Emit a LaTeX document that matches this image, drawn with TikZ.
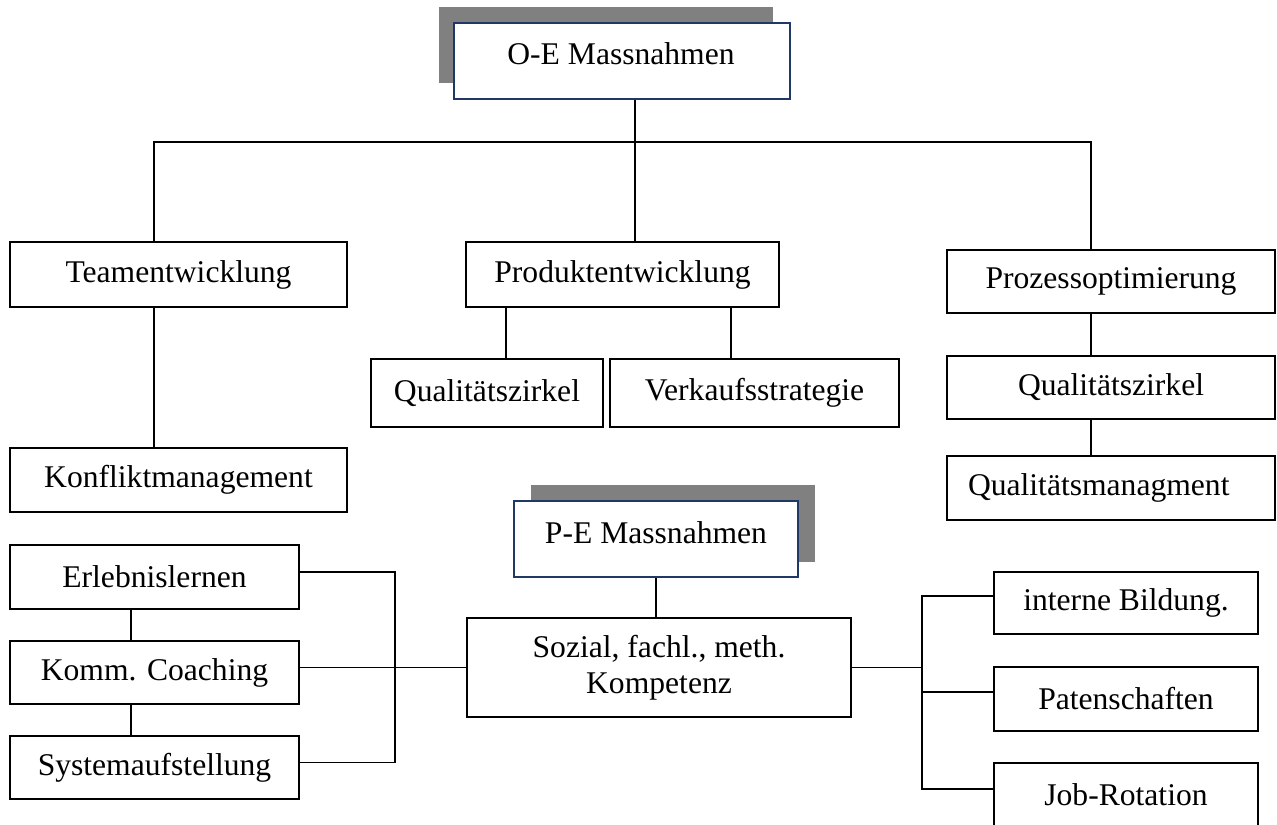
\documentclass[tikz,border=0pt]{standalone}
\usepackage{fontspec}
\setmainfont{Liberation Serif}
\definecolor{hdblue}{RGB}{31,56,100}
\definecolor{shadowgray}{RGB}{128,128,128}
\begin{document}
\begin{tikzpicture}[x=0.5pt,y=-0.5pt,
  box/.style={draw=black, line width=0.9pt, fill=white, inner sep=0pt,
    font=\fontsize{15.8}{18}\selectfont, align=center},
  headbox/.style={box, draw=hdblue},
  headtext/.style={inner sep=0pt, font=\fontsize{15.8}{18}\selectfont},
  shade/.style={fill=shadowgray, inner sep=0pt},
  link/.style={draw=black, line width=0.95pt}]
\useasboundingbox (0,0) rectangle (1277,824);
\clip (0,0) rectangle (1277,824);

% --- O-E head box with offset shadow
\node[shade, minimum width=167pt, minimum height=38pt] (oesh) at (606,45) {};
\node[headbox, minimum width=168pt, minimum height=38pt] (oe) at (622,61) {};
\node[headtext] (oet) at (621,54) {O-E Massnahmen};

% --- first level
\node[box, minimum width=168.5pt, minimum height=32.5pt] (team) at (178.5,274.5) {Teamentwicklung};
\node[box, minimum width=156.5pt, minimum height=32.5pt] (prod) at (622.5,274.5) {Produktentwicklung};
\node[box, minimum width=164pt, minimum height=31.5pt] (proz) at (1111,281.5) {Prozessoptimierung};

% --- second level
\node[box, minimum width=168.5pt, minimum height=32pt] (konf) at (178.5,480) {Konfliktmanagement};
\node[box, minimum width=116pt, minimum height=34pt] (qz1) at (487,393) {Qualitätszirkel};
\node[box, minimum width=144.5pt, minimum height=34pt] (verk) at (754.5,393) {Verkaufsstrategie};
\node[box, minimum width=164pt, minimum height=31.5pt] (qz2) at (1111,387.5) {Qualitätszirkel};
\node[box, minimum height=32pt, text width=143pt, inner xsep=10.5pt, align=left] (qm) at (1111,488) {Qualitätsmanagment};

% --- P-E head box with offset shadow
\node[shade, minimum width=142pt, minimum height=38.5pt] (pesh) at (673,523.5) {};
\node[headbox, minimum width=142pt, minimum height=38pt] (pe) at (656,539) {};
\node[headtext] (pet) at (656,532.5) {P-E Massnahmen};

\node[box, minimum width=192pt, minimum height=49.5pt] (soz) at (659,667.5) {Sozial, fachl., meth.\\Kompetenz};

% --- left column
\node[box, minimum width=144.5pt, minimum height=32pt] (erl) at (154.5,577) {Erlebnislernen};
\node[box, minimum width=144.5pt, minimum height=31.5pt] (komm) at (154.5,672.5) {Komm. Coaching};
\node[box, minimum width=144.5pt, minimum height=31.5pt] (sys) at (154.5,767.5) {Systemaufstellung};

% --- right column
\node[box, minimum width=132pt, minimum height=31pt] (bild) at (1126,603) {interne Bildung.};
\node[box, minimum width=132pt, minimum height=32pt] (pat) at (1126,699) {Patenschaften};
\node[box, minimum width=132pt, minimum height=32pt] (job) at (1126,795) {Job-Rotation};

% --- connector guide positions
\coordinate (bus) at (635,142);
\coordinate (busL) at (154,142);
\coordinate (busR) at (1091,142);
\coordinate (pl) at (506,0);
\coordinate (pr) at (731,0);
\coordinate (lc) at (131,0);
\coordinate (lb) at (395,0);
\coordinate (rb) at (922,0);
\coordinate (erlp) at ([yshift=2.5pt]erl.east);
\coordinate (sysp) at ([yshift=2.5pt]sys.east);
\coordinate (bildp) at ([yshift=3.5pt]bild.west);
\coordinate (patp) at ([yshift=3.5pt]pat.west);
\coordinate (jobp) at ([yshift=3pt]job.west);

% --- upper tree
\draw[link] (oe.south -| bus) -- (prod.north -| bus);
\draw[link] (team.north -| busL) -- (busL) -- (busR) -- (proz.north -| busR);
\draw[link] (team.south -| busL) -- (konf.north -| busL);
\draw[link] (prod.south -| pl) -- (qz1.north -| pl);
\draw[link] (prod.south -| pr) -- (verk.north -| pr);
\draw[link] (proz.south -| busR) -- (qz2.north -| busR);
\draw[link] (qz2.south -| busR) -- (qm.north -| busR);

% --- lower tree
\draw[link] (pe.south -| pet) -- (soz.north -| pet);
\draw[link] (erl.south -| lc) -- (komm.north -| lc);
\draw[link] (komm.south -| lc) -- (sys.north -| lc);
\draw[link] (erlp) -- (erlp -| lb) -- (sysp -| lb) -- (sysp);
\draw[link] (komm.east |- soz.west) -- (soz.west);
\draw[link] (soz.east) -- (soz.east -| rb);
\draw[link] (bildp) -- (bildp -| rb) -- (jobp -| rb) -- (jobp);
\draw[link] (patp -| rb) -- (patp);
\end{tikzpicture}
\end{document}
